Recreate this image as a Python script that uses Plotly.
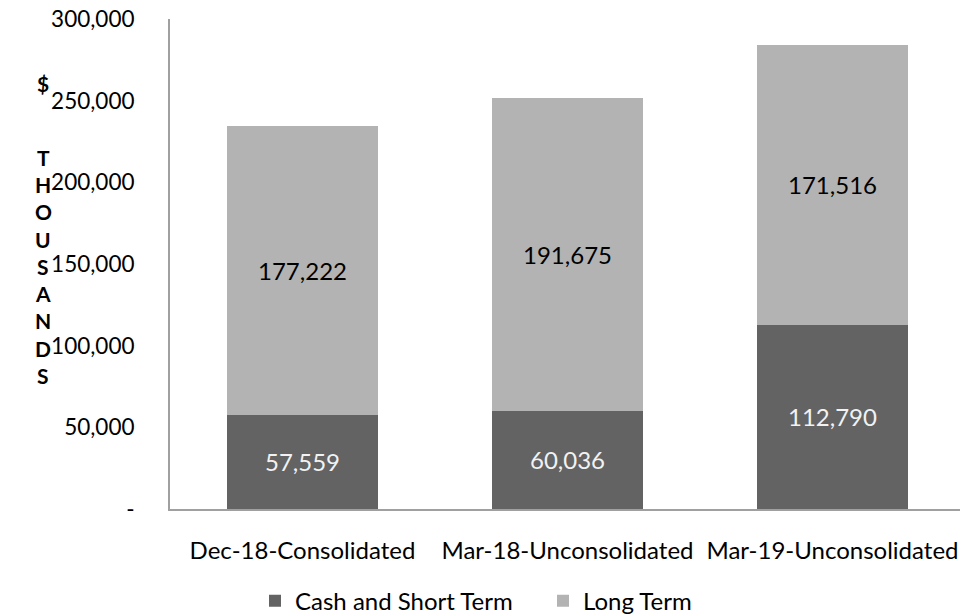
import plotly.graph_objects as go

categories = ["Dec-18-Consolidated", "Mar-18-Unconsolidated", "Mar-19-Unconsolidated"]
cash_short = [57559, 60036, 112790]
long_term = [177222, 191675, 171516]
y_tick_vals = [0, 50000, 100000, 150000, 200000, 250000, 300000]
y_tick_text = ["-", "50,000", "100,000", "150,000", "200,000", "250,000", "300,000"]
y_title_letters = ["$", "T", "H", "O", "U", "S", "A", "N", "D", "S"]

FONT = "Lato, Calibri, Carlito, sans-serif"
FS = 24

fig = go.Figure()
fig.add_trace(go.Bar(
    x=categories, y=cash_short, name="Cash and Short Term",
    marker=dict(color="#636363", line=dict(width=0)), width=0.568,
    text=[f"{v:,}" for v in cash_short], textposition="inside",
    insidetextanchor="middle", textangle=0, constraintext="none",
    textfont=dict(color="#f2f2f2", size=FS, family=FONT),
))
fig.add_trace(go.Bar(
    x=categories, y=long_term, name="Long Term",
    marker=dict(color="#b3b3b3", line=dict(width=0)), width=0.568,
    text=[f"{v:,}" for v in long_term], textposition="inside",
    insidetextanchor="middle", textangle=0, constraintext="none",
    textfont=dict(color="#000000", size=FS, family=FONT),
))

L, T, B = 170, 19, 509
W, H = 960, 614
PW, PH = W - L, B - T

# vertical stacked y-axis title
ys = [83, 157, 184, 212, 239, 266, 293, 320, 348, 375]
for letter, yp in zip(y_title_letters, ys):
    fig.add_annotation(
        text=f"<b>{letter}</b>", xref="paper", yref="paper",
        x=(43 - L) / PW, y=(B - yp) / PH, showarrow=False,
        font=dict(size=21, family=FONT, color="#000000"),
        xanchor="center", yanchor="middle",
    )

fig.update_layout(
    barmode="stack",
    width=W, height=H,
    margin=dict(l=L, r=0, t=T, b=H - B, autoexpand=False),
    paper_bgcolor="white", plot_bgcolor="white",
    font=dict(family=FONT, size=FS, color="#000000"),
    xaxis=dict(
        range=[-0.5, -0.5 + PW / 265.0], showline=True, linecolor="#a0a0a0", linewidth=2,
        showgrid=False, ticks="", tickfont=dict(size=FS), ticklabelstandoff=19,
        automargin=False, ticklabeloverflow="allow",
    ),
    yaxis=dict(
        range=[0, 300000], tickvals=y_tick_vals, ticktext=y_tick_text,
        showline=True, linecolor="#a0a0a0", linewidth=2, showgrid=False,
        zeroline=False, ticks="", tickfont=dict(size=22.5), ticklabelstandoff=29,
        automargin=False, ticklabeloverflow="allow",
    ),
    legend=dict(
        orientation="h", x=(255 - L) / PW, xanchor="left", y=-0.142, yanchor="top",
        font=dict(size=24), traceorder="normal", itemwidth=30,
        entrywidth=243, entrywidthmode="pixels",
    ),
    showlegend=True,
)

fig.write_html(
    "out.html",
    config={"displayModeBar": False},
    post_script="document.body.style.margin='0';document.body.style.overflow='hidden';",
)
